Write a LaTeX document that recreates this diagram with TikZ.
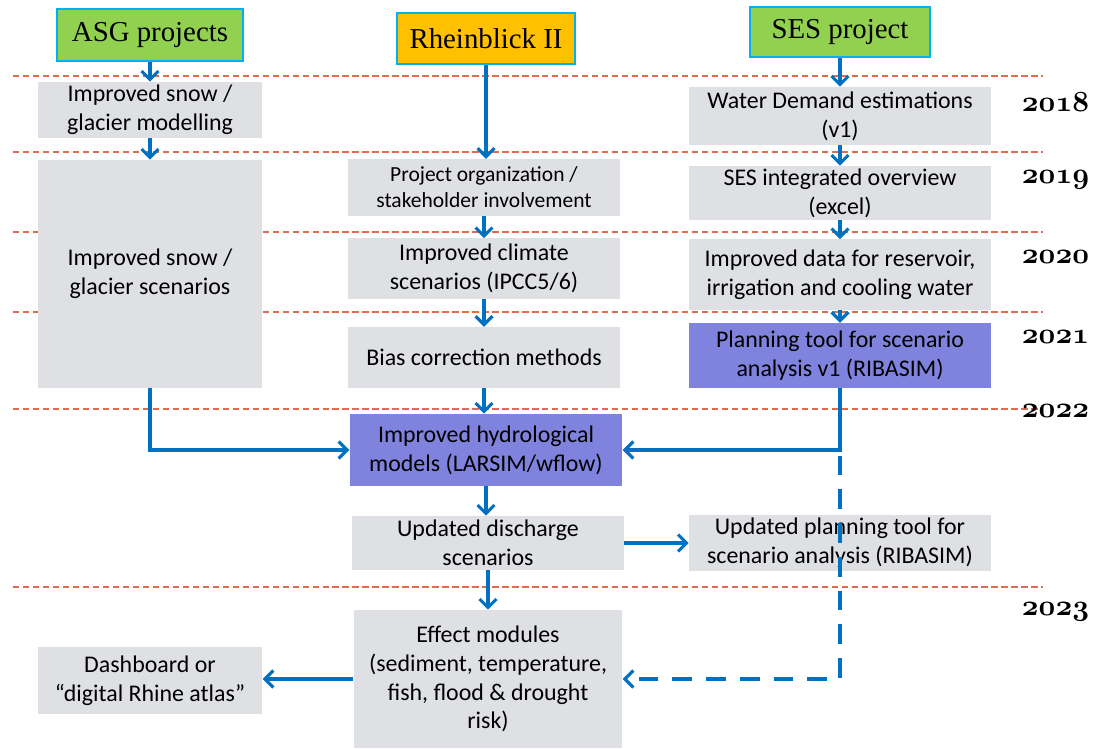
\documentclass[tikz,border=0pt]{standalone}
\usepackage{fontspec}
\usepackage{tikz}
\usetikzlibrary{arrows.meta}
\newfontfamily\txtfont{Carlito}
\newfontfamily\hdfont{Liberation Serif}
\definecolor{boxgray}{RGB}{223,224,228}
\definecolor{purp}{RGB}{127,131,221}
\definecolor{grn}{RGB}{146,208,80}
\definecolor{amber}{RGB}{255,192,0}
\definecolor{cyanline}{RGB}{0,176,240}
\definecolor{flow}{RGB}{0,112,192}
\definecolor{yearline}{RGB}{224,108,76}

\begin{document}
\begin{tikzpicture}[x=0.025cm, y=-0.025cm, >={Straight Barb[length=6pt,width=12pt]},
    task/.style={fill=boxgray, inner sep=0pt, align=center, font=\txtfont\fontsize{17}{20.5}\selectfont},
    model/.style={task, fill=purp},
    project/.style={draw=cyanline, line width=1.5pt, inner sep=0pt, font=\hdfont\fontsize{20.5}{24}\selectfont},
    flowline/.style={->, draw=flow, line width=2.2pt},
    year/.style={anchor=east, font=\fontsize{20}{22}\usefont{OML}{cmm}{b}{it}},
    sep/.style={draw=yearline, line width=1.6pt, dash pattern=on 4.5pt off 2.6pt}]
        \useasboundingbox (0,0) rectangle (1112,749);
        % year bands
        \foreach \y in {76,152,232,312,409,587}
            \draw[sep] (13,\y) -- (1043,\y);
        \foreach \y/\t in {102/2018,180/2019,257/2020,337/2021,411/2022,612/2023}
            \node[year] (y\t) at (1094,\y) {\t};
        % projects
        \node[project, fill=grn, minimum width=4.65cm, minimum height=1.3cm] (asg) at (150,35) {ASG projects};
        \node[project, fill=amber, minimum width=4.43cm, minimum height=1.28cm] (rhein) at (486,38.5) {Rheinblick II};
        \node[project, fill=grn, minimum width=4.5cm, minimum height=1.25cm] (ses) at (840,32) {SES project};
        % ASG column
        \node[task, minimum width=5.62cm, minimum height=1.4cm] (snowmod) at (150,110) {Improved snow /\\glacier modelling};
        \node[task, minimum width=5.62cm, minimum height=5.7cm] (snowscen) at (150,274) {Improved snow /\\glacier scenarios};
        \node[task, minimum width=5.62cm, minimum height=1.68cm] (atlas) at (150,680.5) {Dashboard or\\“digital Rhine atlas”};
        % Rheinblick column
        \node[task, minimum width=6.8cm, minimum height=1.42cm, font=\txtfont\fontsize{15.3}{18.5}\selectfont] (projorg) at (484,187.5) {Project organization /\\stakeholder involvement};
        \node[task, minimum width=6.8cm, minimum height=1.5cm] (climate) at (484,268.5) {Improved climate\\scenarios (IPCC5/6)};
        \node[task, minimum width=6.8cm, minimum height=1.52cm] (bias) at (484,357.5) {Bias correction methods};
        \node[model, minimum width=6.82cm, minimum height=1.8cm] (hydro) at (486,450) {Improved hydrological\\models (LARSIM/wflow)};
        \node[task, minimum width=6.8cm, minimum height=1.35cm] (discharge) at (488,543) {Updated discharge\\scenarios};
        \node[task, minimum width=6.72cm, minimum height=3.45cm] (effect) at (488,679) {Effect modules\\(sediment, temperature,\\fish, flood \& drought\\risk)};
        % SES column
        \node[task, minimum width=7.55cm, minimum height=1.45cm] (water) at (840,116) {Water Demand estimations\\(v1)};
        \node[task, minimum width=7.55cm, minimum height=1.35cm] (sesint) at (840,193) {SES integrated overview\\(excel)};
        \node[task, minimum width=7.55cm, minimum height=1.75cm] (resdata) at (840,274.5) {Improved data for reservoir,\\irrigation and cooling water};
        \node[model, minimum width=7.55cm, minimum height=1.62cm] (planning) at (840,355.5) {Planning tool for scenario\\analysis v1 (RIBASIM)};
        \node[task, minimum width=7.55cm, minimum height=1.4cm] (updplan) at (840,543) {Updated planning tool for\\scenario analysis (RIBASIM)};
        % flows
        \draw[flowline] (asg) -- (snowmod);
        \draw[flowline] (snowmod) -- (snowscen);
        \draw[flowline] (snowscen.south) |- (hydro.west);
        \draw[flowline] (rhein.south) -- (rhein.south |- projorg.north);
        \draw[flowline] (projorg) -- (climate);
        \draw[flowline] (climate) -- (bias);
        \draw[flowline] (bias.south) -- (bias.south |- hydro.north);
        \draw[flowline] (hydro.south) -- (hydro.south |- discharge.north);
        \draw[flowline] (discharge.south) -- (discharge.south |- effect.north);
        \draw[flowline] (discharge) -- (updplan);
        \draw[flowline] (effect.west) -- (effect.west -| atlas.east);
        \draw[flowline] (ses) -- (water);
        \draw[flowline] (water) -- (sesint);
        \draw[flowline] (sesint) -- (resdata);
        \draw[flowline] (resdata) -- (planning);
        \draw[flowline] (planning.south) |- (hydro.east);
        \coordinate (split) at (planning.south |- hydro.east);
        \draw[flowline, dash pattern=on 14pt off 10pt, dash phase=20pt] (split) |- (effect.east);
\end{tikzpicture}
\end{document}
